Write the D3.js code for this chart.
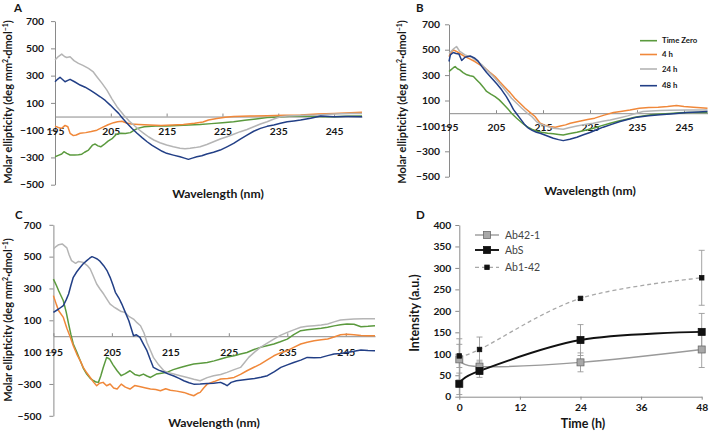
<!DOCTYPE html>
<html><head><meta charset="utf-8">
<script src="https://cdn.jsdelivr.net/npm/d3@7"></script>
<style>
body{margin:0;background:#fff}
svg{display:block}
text{font-family:Lato,'Open Sans',sans-serif}
</style>
</head><body>
<svg id="chart" width="709" height="434"></svg>
<script>
// ---------- DATA ----------
const seriesNames = ["Time Zero", "4 h", "24 h", "48 h"];
const seriesColors = ["#5b9a3e", "#f0883a", "#b5b5b5", "#223f86"];
const yTicksCD = [-500, -300, -100, 100, 300, 500, 700];
const yTickLabelsAB = ["−500", "−300", "−100", "100", "300", "500", "700"];
const yTickLabelsC = ["−500", "−300", "100", "100", "300", "500", "700"];
const xTicksCD = [195, 205, 215, 225, 235, 245];

// Panel A
const A_t0 = [[195,-295],[195.6,-285],[196.2,-275],[196.6,-258],[197.1,-270],[197.7,-282],[198.5,-283],[199.2,-280],[199.8,-276],[200.3,-262],[201,-246],[201.7,-210],[202.2,-202],[202.7,-215],[203.2,-222],[203.8,-205],[204.5,-180],[205.3,-160],[206,-130],[206.8,-122],[207.6,-125],[208.5,-118],[209.2,-100],[209.8,-87],[211,-75],[213,-70],[215,-70],[217,-65],[219,-62],[221,-58],[223,-52],[225,-45],[227,-38],[229,-28],[231,-18],[233,-8],[235,-3],[237,2],[239,4],[241,2],[243,-1],[245,-1],[247,2],[250,4]];
const A_4h = [[195,-70],[195.6,-80],[196.2,-87],[196.8,-65],[197.3,-75],[197.7,-123],[198.3,-140],[198.8,-135],[199.5,-123],[200.5,-118],[201.5,-110],[202.5,-100],[203.5,-80],[204.5,-60],[205.5,-45],[206.2,-38],[207,-35],[207.8,-48],[208.7,-55],[210,-58],[212,-62],[214,-65],[216,-62],[218,-58],[220,-50],[221.5,-40],[222.5,-25],[224,-15],[225.5,-5],[227,0],[230,4],[233,6],[236,9],[239,11],[242,18],[245,22],[248,28],[250,32]];
const A_24h = [[195,415],[195.6,440],[196.2,458],[196.7,440],[197.1,433],[197.7,438],[198.4,410],[199.2,390],[200,375],[201,353],[201.8,330],[202.5,292],[203.4,245],[204.3,194],[205.2,130],[206.1,72],[207.3,11],[208.2,-30],[209.1,-62],[210,-95],[210.9,-123],[211.8,-150],[212.7,-172],[213.8,-192],[215,-209],[216.2,-222],[217.4,-233],[218.3,-236],[219.2,-233],[220.1,-228],[221,-221],[222.2,-205],[223.4,-185],[224.6,-165],[225.8,-148],[227,-130],[228.2,-111],[229.4,-95],[230.6,-75],[231.8,-55],[233,-38],[234.2,-18],[235.4,-1],[236.6,4],[237.8,6],[240,9],[242,11],[245,18],[248,22],[250,23]];
const A_48h = [[195,255],[195.5,275],[195.9,288],[196.4,270],[196.8,255],[197.3,265],[197.7,273],[198.5,255],[199.5,231],[200.4,215],[201.3,194],[202.2,170],[203.1,145],[204,118],[204.9,84],[205.6,55],[206.4,23],[207.1,-12],[207.9,-50],[208.8,-88],[209.7,-123],[210.6,-155],[211.5,-185],[212.4,-212],[213.3,-233],[214.2,-255],[215,-270],[216.2,-283],[217.4,-295],[218.2,-305],[218.9,-314],[219.6,-305],[220.4,-295],[221.3,-288],[222.2,-275],[223.4,-262],[224.6,-246],[225.8,-222],[227,-197],[228.2,-165],[229.4,-136],[230.6,-108],[231.8,-87],[233,-72],[234.2,-62],[235.4,-50],[236.6,-38],[237.8,-32],[239,-26],[240.8,-12],[242.6,4],[245,-1],[247.5,0],[250,-1]];

// Panel B
const B_t0 = [[195,328],[195.4,341],[196,360],[196.3,367],[196.8,350],[197.3,341],[198,320],[198.8,302],[199.5,295],[200.2,289],[200.9,262],[201.6,236],[202.3,205],[203,171],[203.9,150],[204.8,131],[205.7,105],[206.6,70],[207.5,35],[208.3,0],[209.4,-40],[210.5,-75],[211.5,-105],[212.6,-125],[213.6,-140],[214.7,-150],[216,-157],[217.2,-162],[218.3,-167],[219.3,-171],[220.5,-162],[222.2,-150],[224,-135],[225.7,-118],[227.5,-98],[229.3,-79],[231.1,-62],[232.8,-47],[234.5,-32],[236.3,-21],[238,-12],[240,-6],[242,-2],[244,3],[246,5],[248,5],[250,5]];
const B_4h = [[195,446],[195.5,480],[195.9,499],[196.6,486],[197.3,470],[198.4,446],[199.4,428],[200.5,407],[201.6,380],[202.7,354],[203.7,322],[204.8,289],[205.8,247],[206.9,205],[208,162],[209,118],[210.1,78],[211.2,39],[212.3,5],[213.3,-26],[214.4,-79],[215.4,-95],[216.5,-105],[217.6,-110],[218.7,-100],[219.8,-92],[220.8,-79],[222.5,-66],[224.5,-50],[226,-39],[228,-15],[230,5],[231.5,13],[233.5,25],[235.5,39],[237.5,44],[239.5,47],[241.5,52],[243.4,60],[245,53],[247,47],[250,39]];
const B_24h = [[195,472],[195.5,490],[195.9,504],[196.6,525],[197.3,486],[198.4,459],[199.8,441],[200.9,412],[202,381],[203,342],[204.1,302],[205.2,258],[206.2,215],[207.3,165],[208.3,118],[209.4,78],[210.5,39],[211.5,5],[212.6,-26],[213.6,-66],[214.4,-85],[215.6,-100],[217.2,-118],[219.3,-126],[220.5,-115],[222.2,-100],[224.5,-85],[225.7,-79],[228,-62],[229.3,-53],[231.4,-35],[233,-21],[234.5,-5],[236.3,13],[238,18],[240,21],[242,24],[245.6,26],[248,26],[250,26]];
const B_48h = [[195,407],[195.3,459],[195.9,478],[196.5,470],[197.1,467],[197.7,415],[198.4,441],[199.5,451],[200.5,433],[201.2,410],[202,367],[203,320],[204.1,276],[205.2,230],[206.2,184],[207.2,130],[208,80],[208.7,30],[209.3,0],[210.2,-45],[211,-85],[211.8,-115],[212.7,-135],[213.6,-150],[214.4,-158],[215.8,-178],[217.2,-197],[218.3,-208],[219.3,-216],[220.7,-205],[222.2,-189],[223.6,-170],[225,-152],[226.4,-130],[227.8,-110],[229.6,-88],[231.4,-66],[233.2,-48],[235,-31],[237.5,-20],[239.9,-13],[242.8,-5],[245.6,5],[248,10],[250,13]];

// Panel C
const C_t0 = [[195,359],[195.5,320],[195.9,286],[196.7,223],[197.2,150],[197.6,77],[198,10],[198.4,-49],[199,-100],[199.6,-154],[200.1,-200],[200.7,-238],[201.3,-265],[201.9,-280],[202.3,-288],[202.7,-290],[203.1,-250],[203.5,-200],[204.1,-133],[204.6,-143],[205.2,-180],[205.9,-217],[206.6,-248],[207.3,-235],[208.1,-217],[208.9,-240],[209.7,-248],[210.4,-238],[211,-250],[211.6,-259],[212.6,-238],[213.5,-232],[214.4,-227],[215.5,-210],[216.7,-196],[217.8,-185],[219,-175],[220.2,-170],[221.3,-165],[222.5,-155],[223.6,-143],[224.8,-130],[225.9,-123],[227,-112],[228.1,-102],[229.2,-85],[230.4,-70],[231.5,-60],[232.7,-49],[233.8,-35],[235,-18],[236.1,10],[237.3,35],[238.4,40],[239.6,45],[240.8,50],[241.9,56],[243,65],[244.1,72],[245.2,77],[246.4,75],[247.6,60],[248.8,62],[250,66]];
const C_4h = [[195,255],[195.5,200],[195.9,160],[196.7,118],[197.3,50],[197.9,-7],[198.4,-60],[199,-112],[199.6,-155],[200.1,-196],[200.7,-230],[201.3,-259],[201.9,-290],[202.4,-311],[202.9,-295],[203.5,-290],[204.1,-311],[204.7,-300],[205.3,-325],[205.9,-332],[206.6,-301],[207.3,-320],[208.1,-332],[208.9,-310],[209.9,-318],[210.8,-325],[211.6,-332],[212.5,-335],[213.3,-343],[214.2,-330],[215,-339],[216.1,-345],[217.3,-353],[218.2,-365],[219,-374],[219.6,-360],[220.1,-353],[220.7,-325],[221.3,-301],[222.5,-285],[223.6,-269],[224.8,-265],[225.9,-259],[227,-240],[228.1,-217],[229.3,-195],[230.4,-175],[231.5,-150],[232.7,-123],[233.8,-105],[235,-91],[236.1,-70],[237.3,-49],[238.4,-38],[239.6,-28],[240.8,-22],[241.9,-18],[243,-5],[244.1,9],[245.2,12],[246.4,9],[247.6,5],[248.8,3],[250,3]];
const C_24h = [[195,548],[195.5,565],[195.9,575],[196.5,580],[197.3,555],[197.7,510],[198.1,475],[198.8,458],[199.3,470],[200.1,464],[200.9,440],[201.3,422],[201.8,380],[202.4,328],[203,295],[203.6,265],[204.2,230],[204.7,202],[205.3,185],[205.9,171],[206.6,155],[207.2,150],[207.9,125],[208.7,108],[209.3,85],[209.9,66],[210.5,20],[211,-39],[211.6,-90],[212.1,-133],[213,-180],[213.9,-217],[214.7,-230],[215.6,-238],[216.7,-248],[217.9,-259],[219,-270],[220.1,-280],[221.3,-260],[222.4,-248],[223.6,-240],[224.7,-227],[225.9,-210],[227,-196],[227.7,-165],[228.4,-133],[229.4,-100],[230.4,-70],[231.5,-45],[232.7,-18],[233.8,5],[235,24],[236.1,40],[237.3,56],[238.4,62],[239.6,66],[240.8,70],[241.9,77],[243,90],[244.1,102],[245.2,105],[246.4,108],[248,110],[250,110]];
const C_48h = [[195,150],[195.9,171],[196.7,192],[197.2,230],[197.6,265],[198,320],[198.4,370],[199,405],[199.6,433],[200.1,455],[200.7,475],[201.2,490],[201.6,500],[202.1,492],[202.5,485],[203,470],[203.6,443],[204.2,410],[204.7,370],[205.2,320],[205.6,276],[206.2,240],[206.7,202],[207.3,150],[207.9,97],[208.3,50],[208.7,3],[209.2,9],[209.8,-7],[210.4,-50],[211,-91],[211.6,-150],[212.1,-196],[213,-213],[213.9,-225],[214.7,-238],[215.6,-250],[216.5,-265],[217.3,-280],[218.2,-292],[219,-301],[220.1,-300],[221.3,-297],[222.4,-295],[223.6,-290],[224.2,-300],[224.7,-311],[225.4,-290],[226.3,-280],[227.3,-275],[228.3,-270],[229.4,-265],[230.5,-258],[231.6,-248],[232.8,-222],[233.9,-196],[235,-180],[236.1,-165],[237.3,-150],[238.4,-133],[239.6,-135],[240.8,-133],[241.9,-122],[243,-112],[244.1,-108],[245.2,-102],[246.4,-95],[247.6,-87],[248.8,-90],[250,-91]];

// Panel D
const timeHours = [0, 4, 24, 48];
const dTicksX = [0, 12, 24, 36, 48];
const dTicksY = [0, 50, 100, 150, 200, 250, 300, 350, 400];
const dNames = ["Ab42-1", "AbS", "Ab1-42"];
const ab421Values = [87, 70, 80, 110];
const ab421Errors = [48, 15, 22, 42];
const absValues = [30, 60, 132, 151];
const absErrors = [25, 15, 36, 43];
const ab142Values = [95, 110, 229, 277];
const ab142Errors = [27, 29, 3, 64];

// ---------- DRAW ----------
const svg = d3.select("#chart");
const TXT = "#161616";
const AXC = "#8a8a8a";
const TICKFS = 10.3;

function cdPanel(cfg) {
  const x = d3.scaleLinear().domain([195, 250]).range(cfg.xr);
  const y = d3.scaleLinear().domain([-500, 700]).range(cfg.yr);
  const g = svg.append("g");
  const ya = g.append("g").attr("transform", `translate(${x(195)},0)`)
    .call(d3.axisLeft(y).tickValues(yTicksCD).tickSize(4).tickSizeOuter(0).tickPadding(cfg.ypad)
      .tickFormat((d, i) => cfg.ylabels[i]));
  ya.selectAll("path,line").attr("stroke", AXC);
  ya.selectAll("text").attr("fill", TXT).attr("font-size", TICKFS).attr("font-weight", "bold");
  const xa = g.append("g").attr("transform", `translate(0,${y(0)})`)
    .call(d3.axisTop(x).tickValues(xTicksCD).tickSize(3).tickSizeOuter(0).tickFormat(""));
  xa.selectAll("path,line").attr("stroke", AXC);
  const xl = g.append("g").attr("transform", `translate(0,${y(0)})`)
    .call(d3.axisBottom(x).tickValues(xTicksCD).tickSize(0).tickPadding(cfg.xpad));
  xl.select(".domain").remove();
  xl.selectAll("text").attr("fill", TXT).attr("font-size", TICKFS).attr("font-weight", "bold");
  const line = d3.line().x(d => x(d[0])).y(d => y(d[1]));
  cfg.series.forEach((s, i) => {
    g.append("path").datum(s).attr("d", line).attr("fill", "none")
      .attr("stroke", seriesColors[i]).attr("stroke-width", 1.5).attr("stroke-linejoin", "round");
  });
  g.append("text").attr("x", cfg.xt[0]).attr("y", cfg.xt[1]).attr("text-anchor", "middle")
    .attr("font-size", 12.2).attr("font-weight", "bold").attr("fill", TXT).text("Wavelength (nm)");
  const yt = g.append("text").attr("transform", `translate(${cfg.yt[0]},${cfg.yt[1]}) rotate(-90)`)
    .attr("text-anchor", "middle").attr("dy", "0.35em").attr("font-size", 11).attr("font-weight", "bold").attr("fill", TXT);
  yt.append("tspan").text("Molar ellipticity (deg mm");
  yt.append("tspan").attr("font-size", 7).attr("dy", -4).text("2");
  yt.append("tspan").attr("dy", 4).text("·dmol");
  yt.append("tspan").attr("font-size", 7).attr("dy", -4).text("−1");
  yt.append("tspan").attr("dy", 4).text(")");
  g.append("text").attr("x", cfg.lt[0]).attr("y", cfg.lt[1]).attr("font-size", 11.5)
    .attr("font-weight", "bold").attr("fill", TXT).text(cfg.letter);
  return {x, y, g};
}

cdPanel({xr: [55, 362], yr: [184.7, 21.1], ypad: 7, xpad: 11, ylabels: yTickLabelsAB,
  series: [A_t0, A_4h, A_24h, A_48h], xt: [218, 197.5], yt: [8, 102], lt: [14, 12], letter: "A"});
cdPanel({xr: [449, 707.5], yr: [176.7, 24.3], ypad: 5, xpad: 10, ylabels: yTickLabelsAB,
  series: [B_t0, B_4h, B_24h, B_48h], xt: [590, 195], yt: [402, 102], lt: [416, 12], letter: "B"});
cdPanel({xr: [53.4, 375], yr: [415.8, 224.8], ypad: 8, xpad: 12, ylabels: yTickLabelsC,
  series: [C_t0, C_4h, C_24h, C_48h], xt: [214, 426.5], yt: [8, 320], lt: [15, 219], letter: "C"});

// Legend in B
const legB = svg.append("g");
const legY = [40.7, 54.5, 69, 85.7];
seriesNames.forEach((n, i) => {
  legB.append("line").attr("x1", 640).attr("x2", 657).attr("y1", legY[i]).attr("y2", legY[i])
    .attr("stroke", seriesColors[i]).attr("stroke-width", 1.6);
  legB.append("text").attr("x", 662).attr("y", legY[i]).attr("dy", "0.35em").attr("font-size", 7.8)
    .attr("font-weight", "bold").attr("fill", TXT).text(n);
});

// Panel D
(function () {
  const x = d3.scaleLinear().domain([0, 48]).range([459.3, 701.7]);
  const y = d3.scaleLinear().domain([0, 400]).range([396.7, 225]);
  const g = svg.append("g");
  const ya = g.append("g").attr("transform", `translate(${x(0)},0)`)
    .call(d3.axisLeft(y).tickValues(dTicksY).tickSize(4).tickSizeOuter(0).tickPadding(4));
  ya.selectAll("path,line").attr("stroke", AXC);
  ya.selectAll("text").attr("fill", TXT).attr("font-size", TICKFS).attr("font-weight", "bold");
  const xa = g.append("g").attr("transform", `translate(0,${y(0)})`)
    .call(d3.axisBottom(x).tickValues(dTicksX).tickSize(3).tickSizeOuter(0).tickPadding(4));
  xa.selectAll("path,line").attr("stroke", AXC);
  xa.selectAll("text").attr("fill", TXT).attr("font-size", TICKFS).attr("font-weight", "bold");

  const sets = [
    {v: ab421Values, e: ab421Errors, stroke: "#9a9a9a", w: 1.4, dash: null, mk: 7, fill: "#a8a8a8", mstroke: "#6a6a6a"},
    {v: absValues, e: absErrors, stroke: "#111", w: 1.9, dash: null, mk: 7, fill: "#111", mstroke: "#111"},
    {v: ab142Values, e: ab142Errors, stroke: "#a8a8a8", w: 1.3, dash: "4,3", mk: 4.5, fill: "#111", mstroke: "#111"}
  ];
  const line = d3.line().x((d, i) => x(timeHours[i])).y(d => y(d)).curve(d3.curveCardinal.tension(0));
  sets.forEach(s => {
    s.v.forEach((v, i) => {
      const cx = x(timeHours[i]);
      const eg = g.append("g").attr("stroke", "#9a9a9a").attr("stroke-width", 0.9);
      eg.append("line").attr("x1", cx).attr("x2", cx).attr("y1", y(v - s.e[i])).attr("y2", y(v + s.e[i]));
      [v - s.e[i], v + s.e[i]].forEach(b => eg.append("line").attr("x1", cx - 3).attr("x2", cx + 3).attr("y1", y(b)).attr("y2", y(b)));
    });
  });
  sets.forEach(s => {
    g.append("path").datum(s.v).attr("d", line).attr("fill", "none").attr("stroke", s.stroke)
      .attr("stroke-width", s.w).attr("stroke-dasharray", s.dash);
  });
  sets.forEach(s => {
    s.v.forEach((v, i) => {
      g.append("rect").attr("x", x(timeHours[i]) - s.mk / 2).attr("y", y(v) - s.mk / 2)
        .attr("width", s.mk).attr("height", s.mk).attr("fill", s.fill).attr("stroke", s.mstroke).attr("stroke-width", 0.8);
    });
  });
  const ly = [235, 250, 267.3];
  sets.forEach((s, i) => {
    g.append("line").attr("x1", 475).attr("x2", 499).attr("y1", ly[i]).attr("y2", ly[i])
      .attr("stroke", s.stroke).attr("stroke-width", s.w).attr("stroke-dasharray", s.dash);
    g.append("rect").attr("x", 487 - s.mk / 2).attr("y", ly[i] - s.mk / 2).attr("width", s.mk).attr("height", s.mk)
      .attr("fill", s.fill).attr("stroke", s.mstroke).attr("stroke-width", 0.8);
    g.append("text").attr("x", 505).attr("y", ly[i]).attr("dy", "0.35em").attr("font-size", 10.5)
      .attr("fill", "#444").text(dNames[i]);
  });
  g.append("text").attr("x", 583).attr("y", 427.5).attr("text-anchor", "middle").attr("font-size", 12.5)
    .attr("font-weight", "bold").attr("fill", TXT).text("Time (h)");
  g.append("text").attr("transform", "translate(415,313) rotate(-90)").attr("text-anchor", "middle").attr("dy", "0.35em")
    .attr("font-size", 12.5).attr("font-weight", "bold").attr("fill", TXT).text("Intensity (a.u.)");
  g.append("text").attr("x", 416).attr("y", 219).attr("font-size", 11.5).attr("font-weight", "bold").attr("fill", TXT).text("D");
})();
</script>
</body></html>
